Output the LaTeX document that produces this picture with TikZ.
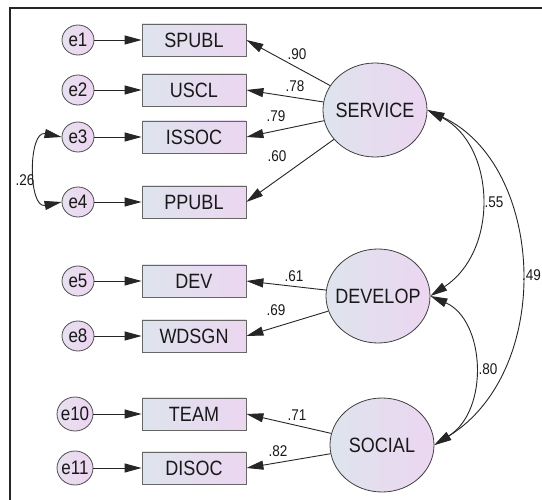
\documentclass[tikz,border=0pt]{standalone}
\usepackage{graphicx}
\usepackage{fontspec}
\setmainfont{Liberation Sans}
\usetikzlibrary{arrows.meta,shapes.geometric}
\definecolor{bl}{RGB}{222,228,238}
\definecolor{pk}{RGB}{236,214,240}
\definecolor{ebl}{RGB}{232,224,240}
\definecolor{epk}{RGB}{236,214,240}
\newcommand{\tall}[1]{\scalebox{1}[1.15]{#1}}
\begin{document}
\begin{tikzpicture}[x=1pt,y=-1pt,
  obs/.style={rectangle, draw=black!60, line width=0.8pt, left color=bl, right color=pk,
    minimum width=104pt, minimum height=32pt, inner sep=0pt,
    font=\fontsize{18}{18}\selectfont, text=black!90},
  err/.style={ellipse, draw=black!70, line width=0.8pt, left color=ebl, right color=epk,
    minimum width=32pt, minimum height=30pt, inner sep=0pt},
  errw/.style={err, minimum width=36pt, minimum height=34pt},
  lat/.style={ellipse, draw=black!75, line width=0.8pt, left color=bl, right color=pk,
    minimum width=104pt, minimum height=94pt, inner sep=0pt},
  lattext/.style={font=\fontsize{18}{18}\selectfont, text=black!90},
  etext/.style={font=\fontsize{17}{17}\selectfont, text=black!90},
  coef/.style={font=\fontsize{13.5}{13.5}\selectfont, inner sep=0pt, text=black!90},
  arr/.style={draw=black!85, line width=0.9pt, -{Triangle[length=17pt,width=9pt]}},
  cov/.style={draw=black!85, line width=0.9pt,
    {Triangle[length=17pt,width=9pt]}-{Triangle[length=17pt,width=9pt]}}
]
\useasboundingbox (0,0) rectangle (542,500);
\clip (0,0) rectangle (542,500);
\fill[white] (0,0) rectangle (542,500);
\draw[line width=2pt, draw=black!85] (10,8) rectangle (600,560);

% observed variables
\node[obs] (SPUBL) at (194,40) {\tall{SPUBL}};
\node[obs] (USCL)  at (194,90) {\tall{USCL}};
\node[obs] (ISSOC) at (194,137) {\tall{ISSOC}};
\node[obs] (PPUBL) at (194,202) {\tall{PPUBL}};
\node[obs] (DEV)   at (194,281) {\tall{DEV}};
\node[obs] (WDSGN) at (194,336) {\tall{WDSGN}};
\node[obs] (TEAM)  at (194,414) {\tall{TEAM}};
\node[obs] (DISOC) at (194,468) {\tall{DISOC}};

% error terms
\node[err, label={[etext]center:\tall{e1}}] (e1) at (78,40) {};
\node[err, label={[etext]center:\tall{e2}}] (e2) at (78,90) {};
\node[err, label={[etext]center:\tall{e3}}] (e3) at (78,137) {};
\node[err, label={[etext]center:\tall{e4}}] (e4) at (78,202) {};
\node[err, label={[etext]center:\tall{e5}}] (e5) at (78,281) {};
\node[err, label={[etext]center:\tall{e8}}] (e8) at (78,336) {};
\node[errw, label={[etext]center:\tall{e10}}] (e10) at (75,414) {};
\node[errw, label={[etext]center:\tall{e11}}] (e11) at (75,468) {};

% latent variables
\node[lat, label={[lattext]center:\tall{SERVICE}}] (SERVICE) at (375,110) {};
\node[lat, label={[lattext]center:\tall{DEVELOP}}] (DEVELOP) at (378,296) {};
\node[lat, label={[lattext]center:\tall{SOCIAL}}]  (SOCIAL)  at (382,445) {};

% error arrows
\draw[arr] (e1) -- (SPUBL);
\draw[arr] (e2) -- (USCL);
\draw[arr] (e3) -- (ISSOC);
\draw[arr] (e4) -- (PPUBL);
\draw[arr] (e5) -- (DEV);
\draw[arr] (e8) -- (WDSGN);
\draw[arr] (e10) -- (TEAM);
\draw[arr] (e11) -- (DISOC);

% loadings
\draw[arr] (SERVICE) -- (SPUBL.east);
\draw[arr] (SERVICE) -- (USCL.east);
\draw[arr] (SERVICE) -- (ISSOC.east);
\draw[arr] (SERVICE) -- (PPUBL.east);
\draw[arr] (DEVELOP) -- (DEV.east);
\draw[arr] (DEVELOP) -- (WDSGN.east);
\draw[arr] (SOCIAL) -- (TEAM.east);
\draw[arr] (SOCIAL) -- (DISOC.east);

% covariances
\draw[cov] (SERVICE.east) .. controls (495,145) and (500,250) .. (DEVELOP.east);
\draw[cov] (SERVICE.east) .. controls (545,165) and (555,370) .. (SOCIAL.east);
\draw[cov] (DEVELOP.east) .. controls (485,320) and (490,410) .. (SOCIAL.east);
\draw[cov] (e3.west) .. controls (28,130) and (28,209) .. (e4.west);

% coefficients
\node[coef] (c90) at (297,54) {\tall{.90}};
\node[coef] (c78) at (295,86) {\tall{.78}};
\node[coef] (c79) at (276,116) {\tall{.79}};
\node[coef] (c60) at (277,156) {\tall{.60}};
\node[coef] (c61) at (294,276) {\tall{.61}};
\node[coef] (c69) at (276,310) {\tall{.69}};
\node[coef] (c71) at (297,415) {\tall{.71}};
\node[coef] (c82) at (278,451) {\tall{.82}};
\node[coef] (c55) at (494,202) {\tall{.55}};
\node[coef] (c80) at (488,369) {\tall{.80}};
\node[coef, anchor=west] (c49) at (522,275) {\tall{.49}};
\node[coef] (c26) at (25,180) {\tall{.26}};
\end{tikzpicture}
\end{document}
